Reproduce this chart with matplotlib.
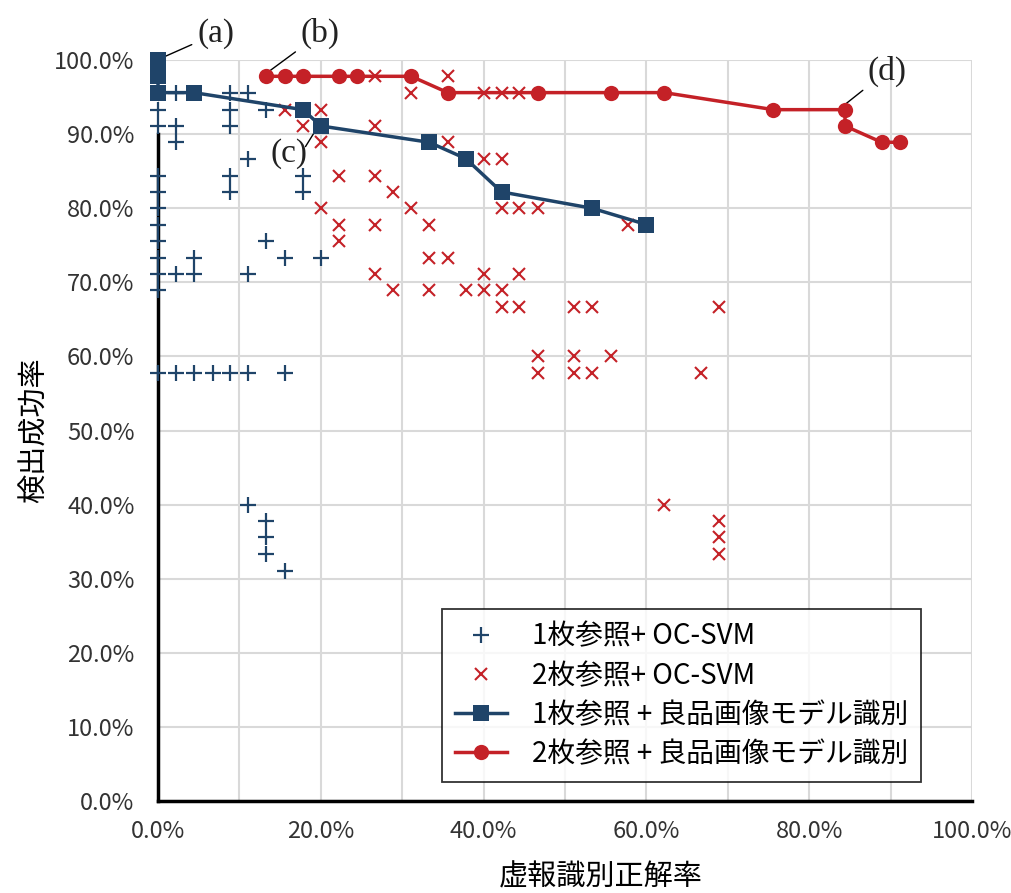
import numpy as np
import matplotlib.pyplot as plt
from matplotlib.ticker import MultipleLocator, FuncFormatter

plt.rcParams['font.family'] = ['Noto Sans CJK JP', 'DejaVu Sans']

# Series data (percent)
svm1_x = [0, 0, 0, 2.2, 8.9, 11.1,
          0, 8.9, 13.3,
          0, 2.2, 8.9,
          2.2,
          11.1,
          0, 8.9, 17.8,
          0, 8.9, 17.8,
          0, 0,
          0, 13.3,
          0, 4.4, 15.6, 20.0,
          0, 2.2, 4.4, 11.1,
          0,
          0, 2.2, 4.4, 6.7, 8.9, 11.1, 15.6,
          11.1, 13.3, 13.3, 13.3, 15.6]
svm1_y = [100, 97.8, 95.6, 95.6, 95.6, 95.6,
          93.3, 93.3, 93.3,
          91.1, 91.1, 91.1,
          88.9,
          86.7,
          84.4, 84.4, 84.4,
          82.2, 82.2, 82.2,
          80.0, 77.8,
          75.6, 75.6,
          73.3, 73.3, 73.3, 73.3,
          71.1, 71.1, 71.1, 71.1,
          68.9,
          57.8, 57.8, 57.8, 57.8, 57.8, 57.8, 57.8,
          40.0, 37.8, 35.6, 33.3, 31.1]

svm2_x = [26.7, 35.6,
          31.1, 40.0, 42.2, 44.4,
          15.6, 17.8, 20.0,
          17.8, 26.7,
          20.0, 35.6,
          40.0, 42.2,
          22.2, 26.7,
          28.9,
          20.0, 31.1, 42.2, 44.4, 46.7,
          22.2, 26.7, 33.3, 57.8,
          22.2,
          33.3, 35.6,
          26.7, 40.0, 44.4,
          28.9, 33.3, 37.8, 40.0, 42.2,
          42.2, 44.4, 51.1, 53.3, 68.9,
          46.7, 51.1, 55.6,
          46.7, 51.1, 53.3, 66.7,
          62.2,
          68.9, 68.9, 68.9]
svm2_y = [97.8, 97.8,
          95.6, 95.6, 95.6, 95.6,
          93.3, 93.3, 93.3,
          91.1, 91.1,
          88.9, 88.9,
          86.7, 86.7,
          84.4, 84.4,
          82.2,
          80.0, 80.0, 80.0, 80.0, 80.0,
          77.8, 77.8, 77.8, 77.8,
          75.6,
          73.3, 73.3,
          71.1, 71.1, 71.1,
          68.9, 68.9, 68.9, 68.9, 68.9,
          66.7, 66.7, 66.7, 66.7, 66.7,
          60.0, 60.0, 60.0,
          57.8, 57.8, 57.8, 57.8,
          40.0,
          37.8, 35.6, 33.3]

model1_x = [0, 0, 0, 4.4, 17.8, 20.0, 33.3, 37.8, 42.2, 53.3, 60.0]
model1_y = [100, 97.8, 95.6, 95.6, 93.3, 91.1, 88.9, 86.7, 82.2, 80.0, 77.8]

model2_x = [13.3, 15.6, 17.8, 22.2, 24.4, 31.1, 35.6, 46.7, 55.6, 62.2,
            75.6, 84.4, 84.4, 88.9, 91.1]
model2_y = [97.8, 97.8, 97.8, 97.8, 97.8, 97.8, 95.6, 95.6, 95.6, 95.6,
            93.3, 93.3, 91.1, 88.9, 88.9]

labels = ['1枚参照+ OC-SVM', '2枚参照+ OC-SVM',
          '1枚参照 + 良品画像モデル識別', '2枚参照 + 良品画像モデル識別']

blue = '#1f4469'
red = '#c42127'

fig = plt.figure(figsize=(10.11, 8.93), dpi=100)
ax = fig.add_axes([0.1563, 0.103, 0.8051, 0.8298])

ax.plot(svm1_x, svm1_y, linestyle='none', marker='+', ms=12, mew=1.6,
        color=blue, label=labels[0], clip_on=False, zorder=3)
ax.plot(svm2_x, svm2_y, linestyle='none', marker='x', ms=8.5, mew=1.5,
        color=red, label=labels[1], clip_on=False, zorder=3)
ax.plot(model1_x, model1_y, '-', marker='s', ms=11, mew=0, lw=2.5, color=blue,
        label=labels[2], clip_on=False, zorder=4)
ax.plot(model2_x, model2_y, '-', marker='o', ms=11, mew=0, lw=2.5, color=red,
        label=labels[3], clip_on=False, zorder=4)

ax.set_xlim(0, 100)
ax.set_ylim(0, 100)
ax.xaxis.set_major_locator(MultipleLocator(20))
ax.xaxis.set_minor_locator(MultipleLocator(10))
ax.yaxis.set_major_locator(MultipleLocator(10))
pct = FuncFormatter(lambda v, p: f'{v:.1f}%')
ax.xaxis.set_major_formatter(pct)
ax.yaxis.set_major_formatter(pct)
ax.grid(True, which='both', color='#d9d9d9', lw=1.5, zorder=0)
ax.set_axisbelow(True)
ax.tick_params(which='both', length=0, labelsize=17, colors='#333333')
ax.tick_params(axis='x', pad=14)
ax.tick_params(axis='y', pad=17)

for s in ['top', 'right']:
    ax.spines[s].set_visible(False)
ax.spines['bottom'].set_linewidth(2.5)
ax.spines['left'].set_linewidth(2.5)
ax.spines['left'].set_bounds(0, 90)
ax.spines['bottom'].set_color('black')
ax.spines['left'].set_color('black')

ax.set_xlabel('虚報識別正解率', fontsize=21)
ax.set_ylabel('検出成功率', fontsize=21, labelpad=3)
ax.xaxis.set_label_coords(0.544, -0.083)

# annotations
ann = dict(fontsize=24, family='Liberation Serif', color='#222222')
line = dict(arrowstyle='-', color='black', lw=1, shrinkA=2, shrinkB=0)
ax.annotate('(a)', xy=(0.9, 100.5), xytext=(4.8, 102.4),
            arrowprops=line, annotation_clip=False, **ann)
ax.annotate('(b)', xy=(13.8, 98.6), xytext=(17.5, 102.4),
            arrowprops=line, annotation_clip=False, **ann)
ax.annotate('(c)', xy=(19.3, 90.4), xytext=(13.8, 86.3),
            arrowprops=dict(arrowstyle='-', color='black', lw=1, patchA=None,
                            relpos=(0.95, 0.72), shrinkA=0, shrinkB=0), **ann)
ax.annotate('(d)', xy=(84.4, 94.0), xytext=(87.2, 97.4),
            arrowprops=line, **ann)

leg = ax.legend(loc='upper left', bbox_to_anchor=(0.349, 0.259), fontsize=20,
                frameon=True, fancybox=False, borderpad=0.45, labelspacing=0.33,
                handlelength=1.9, handletextpad=0.9, borderaxespad=0)
leg.get_frame().set_edgecolor('black')
leg.get_frame().set_linewidth(1.3)

fig.savefig('out.png', dpi=100)
